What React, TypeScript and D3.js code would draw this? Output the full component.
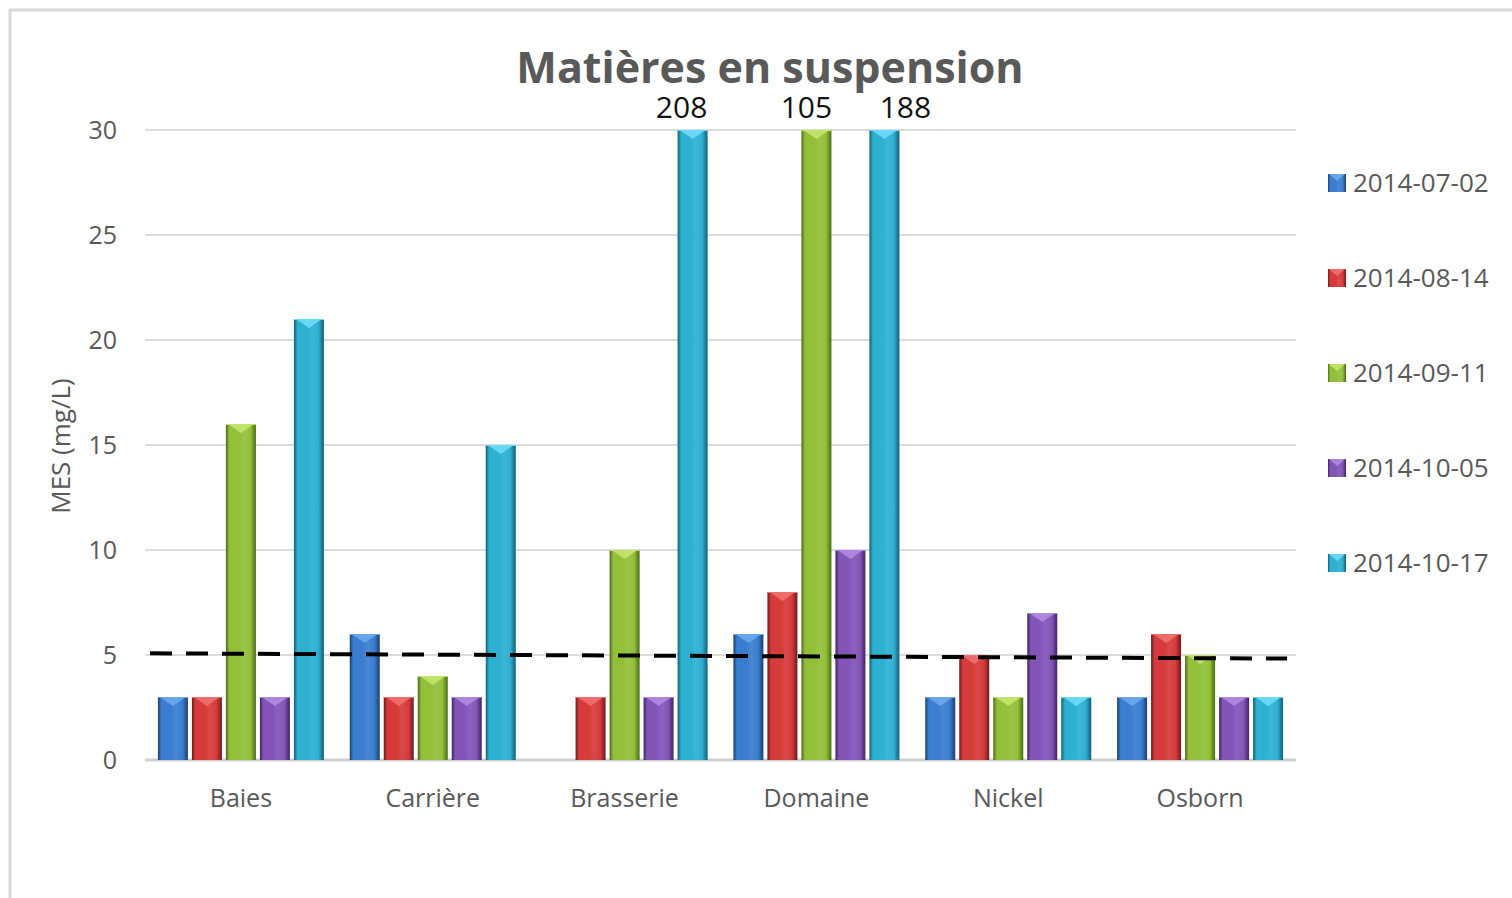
import React from "react";
import * as d3 from "d3";

const categories = ["Baies", "Carrière", "Brasserie", "Domaine", "Nickel", "Osborn"];
const seriesNames = ["2014-07-02", "2014-08-14", "2014-09-11", "2014-10-05", "2014-10-17"];
const s0702 = [3, 6, null, 6, 3, 3];
const s0814 = [3, 3, 3, 8, 5, 6];
const s0911 = [16, 4, 10, 105, 3, 5];
const s1005 = [3, 3, 3, 10, 7, 3];
const s1017 = [21, 15, 208, 188, 3, 3];
const seriesValues = [s0702, s0814, s0911, s1005, s1017];
const yTicks = [0, 5, 10, 15, 20, 25, 30];
const refLine = [5.08, 4.83]; // dashed line start/end values
const title = "Matières en suspension";
const yLabel = "MES (mg/L)";

const colors = ["#3b7dd0", "#d63b3b", "#93c03a", "#8355b8", "#2eb0d2"];
const darks = ["#1d3f6e", "#6e1a1a", "#4c6a16", "#3f2562", "#135e73"];
const lights = ["#6aa8ee", "#f07070", "#c3e56c", "#b08ae0", "#6fdcf5"];

const W = 1512, H = 898;
const left = 145, right = 1296, top = 130, bottom = 760;

export default function App() {
  const x0 = d3.scaleBand<string>().domain(categories).range([left, right]).paddingInner(0).paddingOuter(0);
  const x1 = d3.scaleBand<number>().domain(d3.range(seriesNames.length)).range([0, x0.bandwidth()]).paddingInner(0.118).paddingOuter(0.38);
  const y = d3.scaleLinear().domain([0, 30]).range([bottom, top]).clamp(true);
  const bw = x1.bandwidth();
  const font = "'Open Sans', 'Noto Sans', sans-serif";

  const labelOffsets: Record<string, number> = { "2-4": -11, "3-2": -10, "3-4": 21 };

  return (
    <svg width={W} height={H} style={{ position: "absolute", left: 0, top: 0, background: "#fff" }}>
      <defs>
        {colors.map((c, i) => (
          <linearGradient key={i} id={`g${i}`} x1="0" x2="1" y1="0" y2="0">
            <stop offset="0" stopColor={darks[i]} />
            <stop offset="0.12" stopColor={c} />
            <stop offset="0.45" stopColor={c} />
            <stop offset="0.6" stopColor={c} stopOpacity={0.92} />
            <stop offset="0.82" stopColor={c} />
            <stop offset="1" stopColor={darks[i]} />
          </linearGradient>
        ))}
      </defs>
      <rect x={10} y={10} width={1520} height={1000} fill="none" stroke="#d9d9d9" strokeWidth={3} />
      <text x={770} y={83} textAnchor="middle" fontFamily={font} fontWeight={700} fontSize={43} fill="#595959">{title}</text>
      {yTicks.map((t) => (
        <g key={t}>
          <line x1={left} x2={right} y1={y(t)} y2={y(t)} stroke={t === 0 ? "#d0d0d0" : "#dcdcdc"} strokeWidth={t === 0 ? 3 : 2} />
          <text x={117} y={y(t)} dy="0.35em" textAnchor="end" fontFamily={font} fontSize={25} fill="#595959">{t}</text>
        </g>
      ))}
      <text transform={`translate(70,${(top + bottom) / 2 + 1}) rotate(-90)`} textAnchor="middle" fontFamily={font} fontSize={26} fill="#595959">{yLabel}</text>
      {categories.map((cat, ci) => (
        <g key={cat}>
          {seriesValues.map((vals, si) => {
            const v = vals[ci];
            if (v == null) return null;
            const bx = (x0(cat) as number) + (x1(si) as number);
            const by = y(v);
            const h = bottom - by;
            const bev = Math.min(9, h / 2);
            return (
              <g key={si}>
                <rect x={bx} y={by} width={bw} height={h} fill={`url(#g${si})`} />
                <polygon points={`${bx + 2},${by} ${bx + bw - 2},${by} ${bx + bw / 2},${by + bev}`} fill={lights[si]} opacity={0.9} />
                <line x1={bx} x2={bx + bw} y1={by + 0.5} y2={by + 0.5} stroke={lights[si]} strokeWidth={1} />
                {v > 30 && (
                  <text x={bx + bw / 2 + (labelOffsets[`${ci}-${si}`] || 0)} y={118} textAnchor="middle" fontFamily={font} fontSize={30} fill="#111">{v}</text>
                )}
              </g>
            );
          })}
          <text x={(x0(cat) as number) + x0.bandwidth() / 2} y={798} dy="0.35em" textAnchor="middle" fontFamily={font} fontSize={25} fill="#595959">{cat}</text>
        </g>
      ))}
      <line x1={150} x2={1287} y1={y(refLine[0])} y2={y(refLine[1])} stroke="#000" strokeWidth={4} strokeDasharray="22 14" />
      {seriesNames.map((s, i) => {
        const ly = 183 + i * 95;
        return (
          <g key={s}>
            <rect x={1328} y={ly - 9} width={18} height={18} fill={`url(#g${i})`} />
            <polygon points={`${1329},${ly - 9} ${1345},${ly - 9} ${1337},${ly - 2}`} fill={lights[i]} opacity={0.9} />
            <text x={1353} y={ly} dy="0.35em" fontFamily={font} fontSize={26} fill="#595959">{s}</text>
          </g>
        );
      })}
    </svg>
  );
}
